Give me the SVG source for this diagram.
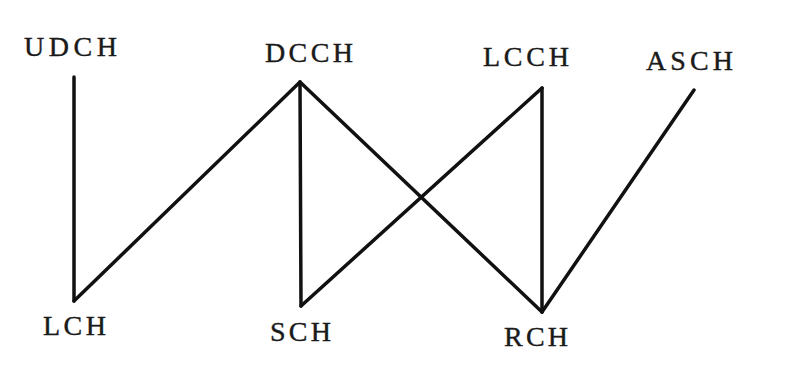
<svg xmlns="http://www.w3.org/2000/svg" width="803" height="383" viewBox="0 0 803 383">
<style>
.lbl{font-family:"Liberation Serif","DejaVu Serif",serif;font-size:28px;fill:#1a1a1a;stroke:#1a1a1a;stroke-width:0.4}
.edge{stroke:#111;stroke-width:3.5;fill:none;stroke-linecap:round;stroke-linejoin:round}
</style>
<rect width="803" height="383" fill="#fff"/>
<g id="connectors">
<line class="edge" x1="74" y1="77" x2="74" y2="301"/>
<line class="edge" x1="74" y1="301" x2="300" y2="82"/>
<line class="edge" x1="300" y1="82" x2="301" y2="306"/>
<line class="edge" x1="300" y1="82" x2="542" y2="312"/>
<line class="edge" x1="301" y1="306" x2="542" y2="88"/>
<line class="edge" x1="542" y1="88" x2="542" y2="312"/>
<line class="edge" x1="542" y1="312" x2="694" y2="90"/>
</g>
<g id="UDCH"><text class="lbl" x="24" y="56" textLength="93" lengthAdjust="spacing">UDCH</text></g>
<g id="DCCH"><text class="lbl" x="265" y="62" textLength="88" lengthAdjust="spacing">DCCH</text></g>
<g id="LCCH"><text class="lbl" x="483" y="66" textLength="86" lengthAdjust="spacing">LCCH</text></g>
<g id="ASCH"><text class="lbl" x="646" y="70" textLength="87" lengthAdjust="spacing">ASCH</text></g>
<g id="LCH"><text class="lbl" x="43" y="335" textLength="63" lengthAdjust="spacing">LCH</text></g>
<g id="SCH"><text class="lbl" x="270" y="341" textLength="61" lengthAdjust="spacing">SCH</text></g>
<g id="RCH"><text class="lbl" x="504" y="346" textLength="64" lengthAdjust="spacing">RCH</text></g>
</svg>
